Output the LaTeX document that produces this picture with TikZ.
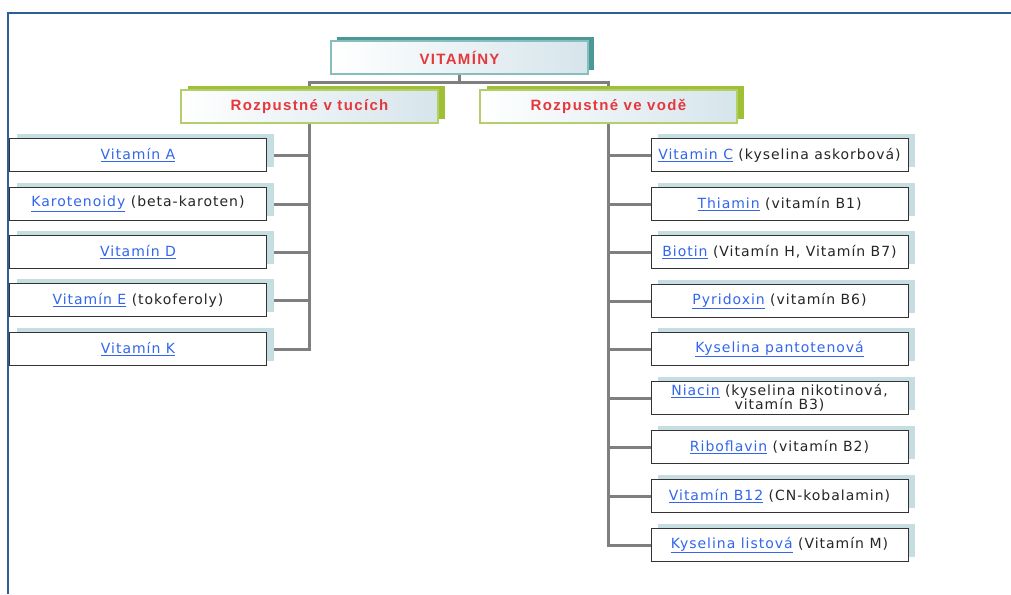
\documentclass[tikz,border=0pt]{standalone}
\usepackage{fontspec}
\usetikzlibrary{shadows}
\newfontfamily\leaffont[LetterSpace=7]{DejaVu Sans}
\newfontfamily\headfont[LetterSpace=9]{Liberation Sans}
\definecolor{framec}{HTML}{2C5F97}
\definecolor{connc}{HTML}{7F7F7F}
\definecolor{linkc}{HTML}{3366EE}
\definecolor{headred}{HTML}{E5383D}
\definecolor{leafsh}{HTML}{C6DDE1}
\definecolor{catsh}{HTML}{9FBF35}
\definecolor{catbd}{HTML}{B2CF6A}
\definecolor{topsh}{HTML}{4C9896}
\definecolor{topbd}{HTML}{86BEBD}
\definecolor{boxfill}{HTML}{D6E5EB}
\newcommand{\lk}[1]{\textcolor{linkc}{\underline{#1}}}
\begin{document}
\begin{tikzpicture}[x=1pt,y=-1pt,
  conn/.style={draw=connc,line width=3pt},
  leafbox/.style={draw=black!80,line width=0.9pt,fill=white,minimum width=257pt,minimum height=33pt,
    inner sep=0pt,font=\fontsize{14}{14.5}\leaffont,text=black!85,align=center,
    copy shadow={shadow xshift=7pt,shadow yshift=5pt,fill=leafsh,draw=none}},
  catbox/.style={draw=catbd,line width=1.2pt,left color=white,right color=boxfill,minimum width=257pt,minimum height=33pt,
    inner sep=0pt,font=\fontsize{15}{16}\headfont\bfseries,text=headred,
    copy shadow={shadow xshift=6.5pt,shadow yshift=4pt,fill=catsh,draw=none}},
  topbox/.style={draw=topbd,line width=1.2pt,left color=white,right color=boxfill,minimum width=257pt,minimum height=33pt,
    inner sep=0pt,font=\fontsize{15}{16}\headfont\bfseries,text=headred,
    copy shadow={shadow xshift=6pt,shadow yshift=4pt,fill=topsh,draw=none}}]
\useasboundingbox (0,0) rectangle (1011,594);
\draw[framec,line width=2.5pt] (8,594) -- (8,13) -- (1011,13);

% connectors
\coordinate (tl) at (309.5,82.5);
\coordinate (tr) at (608.5,82.5);
\draw[conn] (459.5,60) -- (459.5,82.5);
\draw[conn] (309.5,100) -- (tl) -- (tr) -- (608.5,100);
\draw[conn] (309.5,110) |- (267,155);
\draw[conn] (309.5,110) |- (267,204);
\draw[conn] (309.5,110) |- (267,252);
\draw[conn] (309.5,110) |- (267,300);
\draw[conn] (309.5,110) |- (267,349);
\foreach \y in {155,204,252,301,349,398,447,496,545}
  \draw[conn] (608.5,110) |- (660,\y);

\node[topbox] (top) at (459.5,57.5) {VITAMÍNY};
\node[catbox] (catL) at (309.5,106.5) {Rozpustné v tucích};
\node[catbox] (catR) at (608.5,106.5) {Rozpustné ve vodě};

\node[leafbox] (a) at (138,155) {\lk{Vitamín A}};
\node[leafbox] (kar) at (138,204) {\lk{Karotenoidy} (beta-karoten)};
\node[leafbox] (d) at (138,252) {\lk{Vitamín D}};
\node[leafbox] (e) at (138,300) {\lk{Vitamín E} (tokoferoly)};
\node[leafbox] (k) at (138,349) {\lk{Vitamín K}};

\node[leafbox] (c) at (779.5,155) {\lk{Vitamin C} (kyselina askorbová)};
\node[leafbox] (b1) at (779.5,204) {\lk{Thiamin} (vitamín B1)};
\node[leafbox] (b7) at (779.5,252) {\lk{Biotin} (Vitamín H, Vitamín B7)};
\node[leafbox] (b6) at (779.5,301) {\lk{Pyridoxin} (vitamín B6)};
\node[leafbox] (b5) at (779.5,349) {\lk{Kyselina pantotenová}};
\node[leafbox] (b3) at (779.5,398) {\lk{Niacin} (kyselina nikotinová,\\vitamín B3)};
\node[leafbox] (b2) at (779.5,447) {\lk{Riboflavin} (vitamín B2)};
\node[leafbox] (b12) at (779.5,496) {\lk{Vitamín B12} (CN-kobalamin)};
\node[leafbox] (m) at (779.5,545) {\lk{Kyselina listová} (Vitamín M)};
\end{tikzpicture}
\end{document}
